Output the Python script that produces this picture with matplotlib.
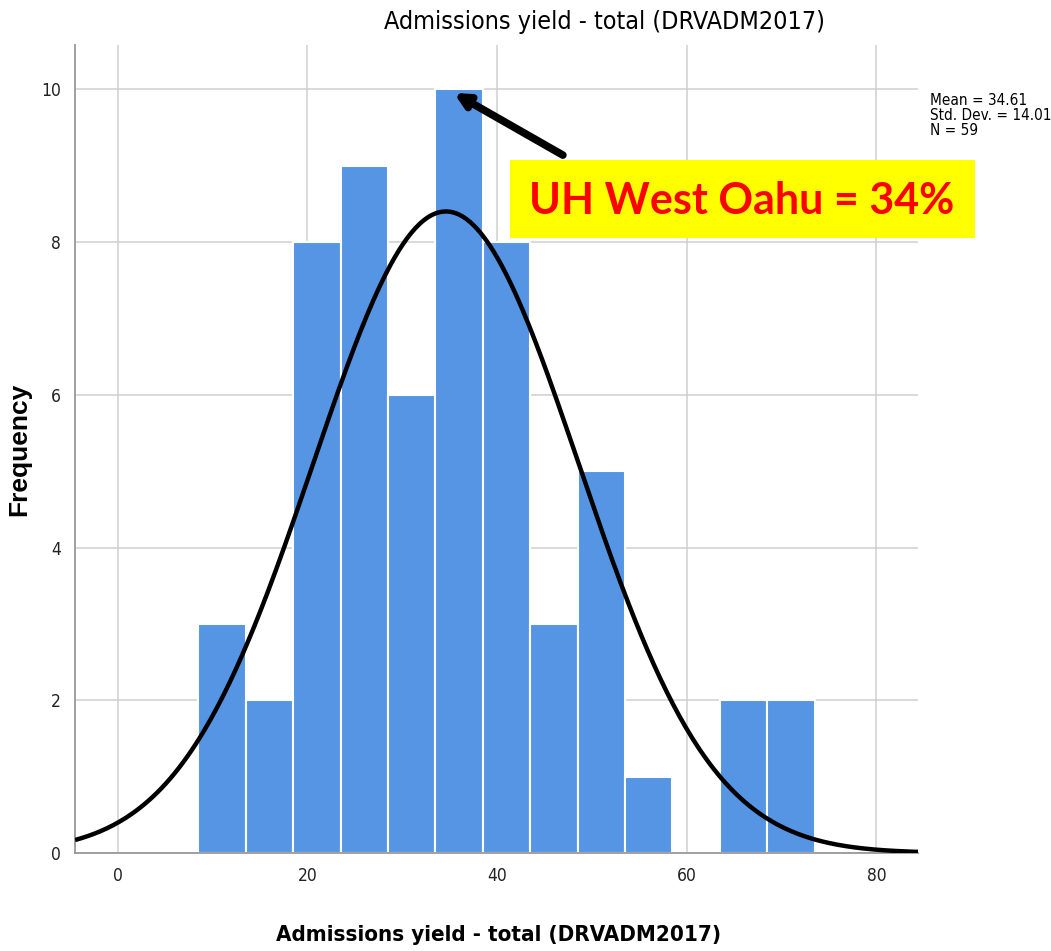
import numpy as np
import matplotlib.pyplot as plt
from matplotlib.patches import Rectangle

# histogram data
bin_start = 8.5
bin_width = 5
counts = [3, 2, 8, 9, 6, 10, 8, 3, 5, 1, 0, 2, 2]
mean = 34.61
std = 14.01
n = 59
x_ticks = [0, 20, 40, 60, 80]
y_ticks = [0, 2, 4, 6, 8, 10]
title = 'Admissions yield - total (DRVADM2017)'
label = 'UH West Oahu = 34%'
point_x, point_y = 35.2, 9.97   # arrow tip
tail_x, tail_y = 47.2, 9.12

narrow = dict(family='DejaVu Sans', stretch='condensed')

fig = plt.figure(figsize=(10.51, 9.51), dpi=100)
ax = fig.add_axes([0.0714, 0.103, 0.8021, 0.8497])

edges = bin_start + bin_width * np.arange(len(counts))
ax.bar(edges, counts, width=bin_width, align='edge', color='#5595e3',
       edgecolor='white', linewidth=1.5, zorder=2)

xs = np.linspace(-4.5, 84.4, 400)
ys = n * bin_width / (std * np.sqrt(2 * np.pi)) * np.exp(-0.5 * ((xs - mean) / std) ** 2)
ax.plot(xs, ys, color='black', lw=3.2, zorder=3, solid_capstyle='butt')

ax.set_xlim(-4.5, 84.4)
ax.set_ylim(0, 10.58)
ax.set_xticks(x_ticks)
ax.set_yticks(y_ticks)
ax.grid(True, color='#cfcfcf', lw=1.1, zorder=0)
ax.set_axisbelow(True)
for s in ['top', 'right']:
    ax.spines[s].set_visible(False)
for s in ['left', 'bottom']:
    ax.spines[s].set_color('#999999')
    ax.spines[s].set_linewidth(1.3)
ax.tick_params(length=0, pad=10)
for t in ax.get_xticklabels() + ax.get_yticklabels():
    t.set_family('DejaVu Sans')
    t.set_stretch('condensed')
    t.set_fontsize(12.5)
    t.set_color('#222222')

fig.text(0.5755, 0.977, title, ha='center', va='center', fontsize=18, **narrow)
fig.text(0.474, 0.017, title, ha='center', va='center', fontsize=16,
         fontweight='bold', **narrow)
fig.text(0.018, 0.527, 'Frequency', rotation=90, ha='center', va='center',
         fontsize=19, fontweight='bold', family=['Liberation Sans', 'DejaVu Sans'])

fig.text(0.885, 0.902, 'Mean = %.2f\nStd. Dev. = %.2f\nN = %d' % (mean, std, n),
         ha='left', va='top', fontsize=11, linespacing=1.0, **narrow)

# highlighted callout
fig.patches.append(Rectangle((0.4852, 0.7497), 0.4424, 0.082, transform=fig.transFigure,
                             facecolor='#ffff00', edgecolor='none', zorder=5))
fig.text(0.706, 0.789, label, ha='center', va='center', color='#ff0000',
         fontsize=31, fontweight='bold', family=['Lato', 'DejaVu Sans'], zorder=6)
ax.annotate('', xy=(point_x, point_y), xytext=(tail_x, tail_y),
            arrowprops=dict(arrowstyle='->,head_length=0.8,head_width=0.4',
                            color='black', lw=5.5, capstyle='round',
                            joinstyle='round'), zorder=6)

fig.savefig('out.png', dpi=100)
